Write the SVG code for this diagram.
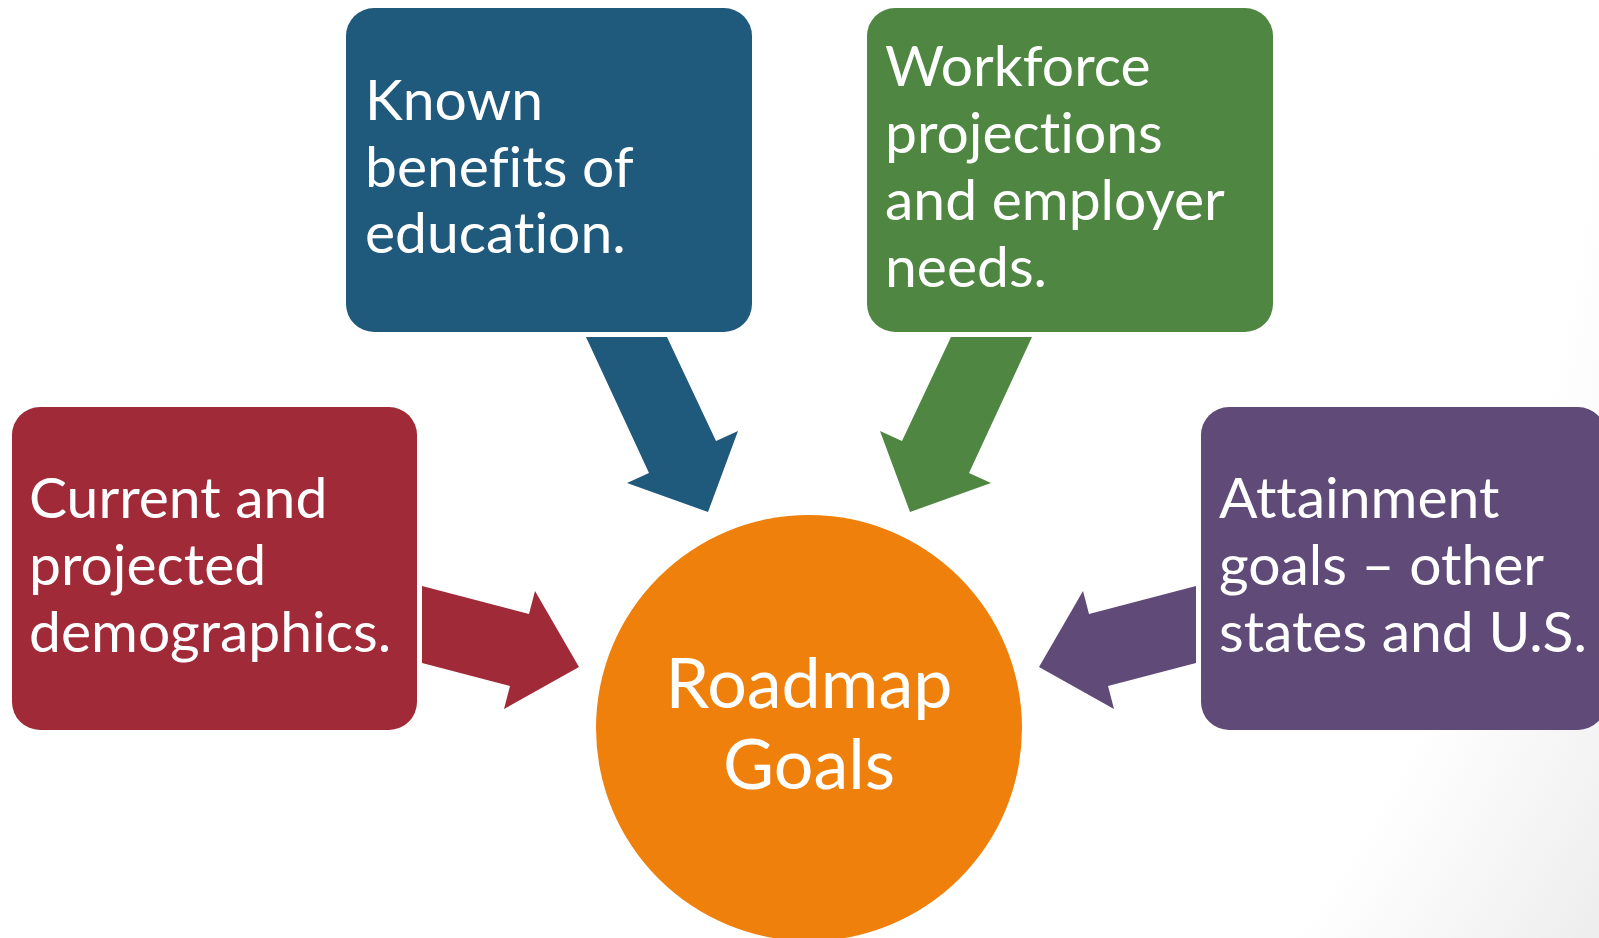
<svg xmlns="http://www.w3.org/2000/svg" width="1599" height="938" viewBox="0 0 1599 938">
  <defs>
    <radialGradient id="bg" cx="0" cy="0" r="1854" gradientUnits="userSpaceOnUse">
      <stop offset="0.86" stop-color="#ffffff"/>
      <stop offset="1" stop-color="#ededed"/>
    </radialGradient>
    <style>
      .lbl { font-family: Lato, "Open Sans", sans-serif; font-size: 57px; fill: #ffffff; font-variant-ligatures: none; }
      .big { font-family: Lato, "Open Sans", sans-serif; font-size: 70px; fill: #ffffff; text-anchor: middle; font-variant-ligatures: none; }
      .red { fill: #A02A37; }
      .blue { fill: #1F597B; }
      .green { fill: #4F8642; }
      .purple { fill: #604A78; }
      .orange { fill: #EF800C; }
    </style>
  </defs>
  <rect x="0" y="0" width="1599" height="938" fill="url(#bg)"/>

  <g id="connectors">
    <polygon class="blue" points="586,337 667,337 716,441 738,431 708,512 627,483 649,473"/>
    <polygon class="green" points="1032,337 951,337 902,441 880,431 910,512 991,483 969,473"/>
    <polygon class="red" points="422,586 529,614 535,591 579,667 504,709 510,686 422,663"/>
    <polygon class="purple" points="1196,586 1089,614 1083,591 1039,667 1114,709 1108,686 1196,663"/>
  </g>

  <g id="node-known-benefits">
    <rect class="blue" x="346" y="8" width="406" height="324" rx="28" ry="28"/>
    <text class="lbl" x="365" y="120">Known</text>
    <text class="lbl" x="365" y="187">benefits of</text>
    <text class="lbl" x="365" y="253">education.</text>
  </g>

  <g id="node-workforce">
    <rect class="green" x="867" y="8" width="406" height="324" rx="28" ry="28"/>
    <text class="lbl" x="885" y="86">Workforce</text>
    <text class="lbl" x="885" y="153">projections</text>
    <text class="lbl" x="885" y="220">and employer</text>
    <text class="lbl" x="885" y="287">needs.</text>
  </g>

  <g id="node-demographics">
    <rect class="red" x="12" y="407" width="405" height="323" rx="28" ry="28"/>
    <text class="lbl" x="29" y="518">Current and</text>
    <text class="lbl" x="29" y="585">projected</text>
    <text class="lbl" x="29" y="652">demographics.</text>
  </g>

  <g id="node-attainment">
    <rect class="purple" x="1201" y="407" width="405" height="323" rx="28" ry="28"/>
    <text class="lbl" x="1219" y="518">Attainment</text>
    <text class="lbl" x="1219" y="585">goals – other</text>
    <text class="lbl" x="1219" y="652">states and U.S.</text>
  </g>

  <g id="node-roadmap">
    <circle class="orange" cx="809" cy="728" r="213"/>
    <text class="big" x="809" y="708">Roadmap</text>
    <text class="big" x="809" y="789">Goals</text>
  </g>
</svg>
